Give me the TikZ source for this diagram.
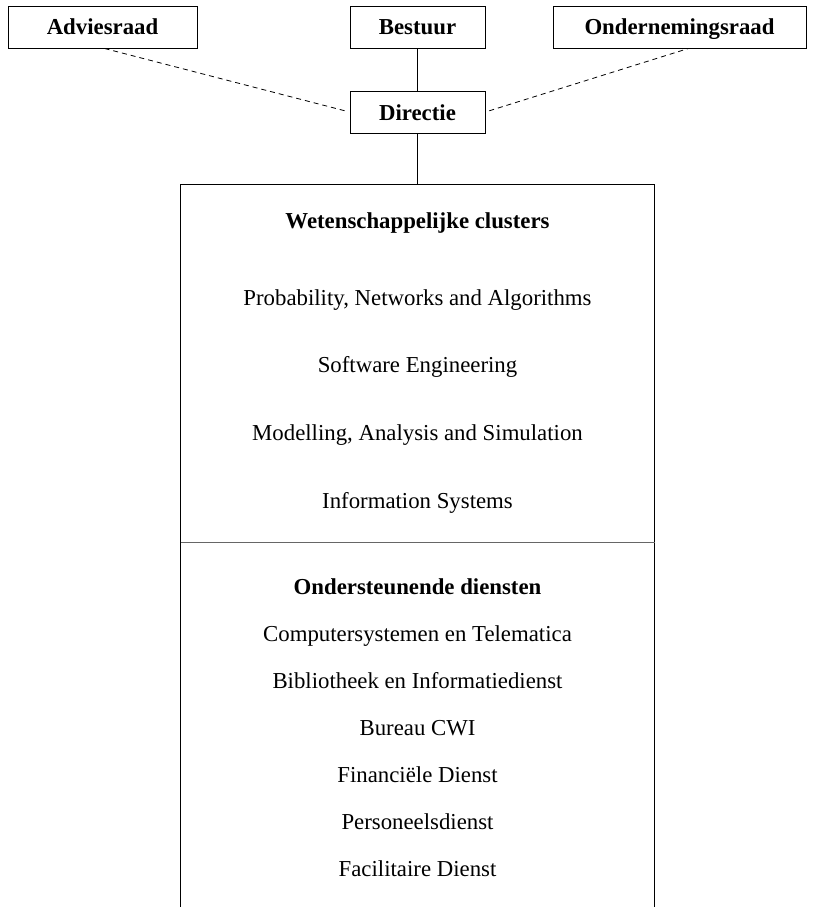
\documentclass[tikz,border=0pt]{standalone}
\usepackage{fontspec}
\setmainfont{Liberation Serif}
\begin{document}
\begin{tikzpicture}[x=1pt,y=-1pt,
  font=\fontsize{22.8}{27}\selectfont,
  topbox/.style={draw,line width=0.9pt,rectangle,inner sep=0pt,minimum height=42pt,font=\fontsize{22.8}{27}\selectfont\bfseries},
  item/.style={anchor=base,inner sep=0pt},
  head/.style={anchor=base,inner sep=0pt,font=\fontsize{22.8}{27}\selectfont\bfseries},
  dashlink/.style={line width=0.8pt,dash pattern=on 5pt off 4pt},
  solidlink/.style={line width=0.9pt}]
\useasboundingbox (0,0) rectangle (812,907);
% top row
\node[topbox,minimum width=189pt] (adv) at (102.5,27) {};
\node[anchor=base,inner sep=0pt,font=\fontsize{22.8}{27}\selectfont\bfseries] (advt) at (102.5,35) {Adviesraad};
\node[topbox,minimum width=135pt] (bes) at (417.5,27) {};
\node[anchor=base,inner sep=0pt,font=\fontsize{22.8}{27}\selectfont\bfseries] (best) at (417.5,35) {Bestuur};
\node[topbox,minimum width=253pt] (ond) at (679.5,27) {};
\node[anchor=base,inner sep=0pt,font=\fontsize{22.8}{27}\selectfont\bfseries] (ondt) at (679.5,35) {Ondernemingsraad};
\node[topbox,minimum width=135pt] (dir) at (417.5,112) {};
\node[anchor=base,inner sep=0pt,font=\fontsize{22.8}{27}\selectfont\bfseries] (dirt) at (417.5,120.5) {Directie};
% big box (open at the bottom)
\node[rectangle,inner sep=0pt,minimum width=474pt,minimum height=723pt] (box) at (417.5,546) {};
\draw[solidlink] (box.south west) -- (box.north west) -- (box.north east) -- (box.south east);
\coordinate (divl) at (180.5,542.5);
\coordinate (divr) at (654.5,542.5);
\draw[line width=1.1pt,black!60] (divl) -- (divr);
% connectors
\draw[solidlink] (bes) -- (dir);
\draw[solidlink] (dir) -- (box.north);
\draw[dashlink,shorten >=3pt] ([xshift=2pt]adv.south) -- (dir.west);
\draw[dashlink,shorten <=4pt] (dir.east) -- ([xshift=9pt]ond.south);
% clusters
\node[head] (wc) at (417.5,228) {Wetenschappelijke clusters};
\node[item] (c1) at (417.5,305) {Probability, Networks and Algorithms};
\node[item] (c2) at (417.5,372) {Software Engineering};
\node[item] (c3) at (417.5,440) {Modelling, Analysis and Simulation};
\node[item] (c4) at (417.5,508) {Information Systems};
% services
\node[head] (od) at (417.5,594) {Ondersteunende diensten};
\node[item] (s1) at (417.5,641.5) {Computersystemen en Telematica};
\node[item] (s2) at (417.5,688.5) {Bibliotheek en Informatiedienst};
\node[item] (s3) at (417.5,735.5) {Bureau CWI};
\node[item] (s4) at (417.5,782.5) {Financiële Dienst};
\node[item] (s5) at (417.5,829.5) {Personeelsdienst};
\node[item] (s6) at (417.5,876.5) {Facilitaire Dienst};
\end{tikzpicture}
\end{document}
